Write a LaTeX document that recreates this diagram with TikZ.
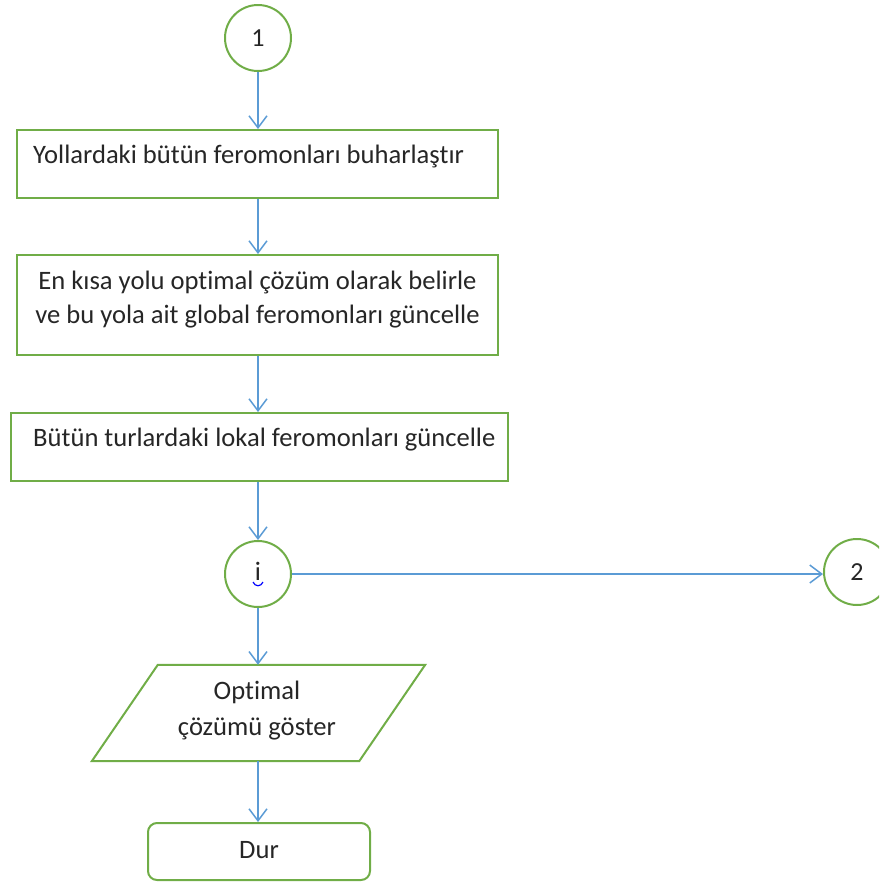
\documentclass[tikz,border=0pt]{standalone}
\usepackage{fontspec}
\setmainfont[Ligatures=NoCommon]{Carlito}
\usetikzlibrary{arrows.meta,calc}
\definecolor{boxgreen}{HTML}{70AD47}
\definecolor{arrowblue}{HTML}{5B9BD5}
\definecolor{inkgray}{HTML}{262626}
\begin{document}
\begin{tikzpicture}[x=1pt,y=-1pt,
  txt/.style={font=\fontsize{26.6}{32}\selectfont, text=inkgray, inner sep=0pt},
  procbox/.style={draw=boxgreen, line width=2pt, rectangle, inner sep=0pt},
  conn/.style={draw=boxgreen, line width=2pt, circle, minimum size=66pt, inner sep=0pt,
    font=\fontsize{26}{31}\selectfont, text=inkgray},
  flow/.style={draw=arrowblue, line width=1.5pt,
    -{Straight Barb[length=12pt,width=18pt,line width=1.5pt]}}
]
\useasboundingbox (0,0) rectangle (879,884);
\clip (0,0) rectangle (879,884);

% connectors and boxes
\node[conn] (c1) at (258,38) {1};
\node[procbox, minimum width=481pt, minimum height=68pt] (b1) at (257.5,164) {};
\node[procbox, minimum width=481pt, minimum height=100pt] (b2) at (257.5,305) {};
\node[procbox, minimum width=497pt, minimum height=68pt] (b3) at (259.5,447) {};
\node[conn] (ci) at (258,574) {};
\node[conn] (c2) at (857,572) {2};
\node[rectangle, minimum width=267pt, minimum height=96pt, inner sep=0pt] (p) at (258.5,713) {};
\node[procbox, rounded corners=9pt, minimum width=222pt, minimum height=57pt] (dur) at (259,851.5) {};

% output parallelogram
\draw[boxgreen, line width=2pt]
  ($(p.north west)+(33,0)$) -- ($(p.north east)+(33,0)$) --
  ($(p.south east)+(-33,0)$) -- ($(p.south west)+(-33,0)$) -- cycle;

% texts
\node[txt, anchor=base west] (t1) at (33,163) {Yollardaki bütün feromonları buharlaştır};
\node[txt, anchor=base] (t2a) at (257.5,289) {En kısa yolu optimal çözüm olarak belirle};
\node[txt, anchor=base] (t2b) at (257.5,323) {ve bu yola ait global feromonları güncelle};
\node[txt, anchor=base west] (t3) at (33,446) {Bütün turlardaki lokal feromonları güncelle};
\node[txt, anchor=base] (ti) at (258,580) {i};
\node[txt, anchor=base] (tp1) at (257,699) {Optimal};
\node[txt, anchor=base] (tp2) at (257,735) {çözümü göster};
\node[txt, anchor=base] (td) at (259,858) {Dur};

% spelling mark under the i
\draw[blue, line width=1.2pt] (253,582) .. controls (255,587) and (261,587) .. (263,582);

% flow arrows
\draw[flow] (c1.south) -- (c1.south |- b1.north);
\draw[flow] (c1.south |- b1.south) -- (c1.south |- b2.north);
\draw[flow] (c1.south |- b2.south) -- (c1.south |- b3.north);
\draw[flow] (c1.south |- b3.south) -- (ci.north);
\draw[flow] (ci.east) -- (c2.west |- ci.east);
\draw[flow] (ci.south) -- (ci.south |- p.north);
\draw[flow] (ci.south |- p.south) -- (ci.south |- dur.north);
\end{tikzpicture}
\end{document}
